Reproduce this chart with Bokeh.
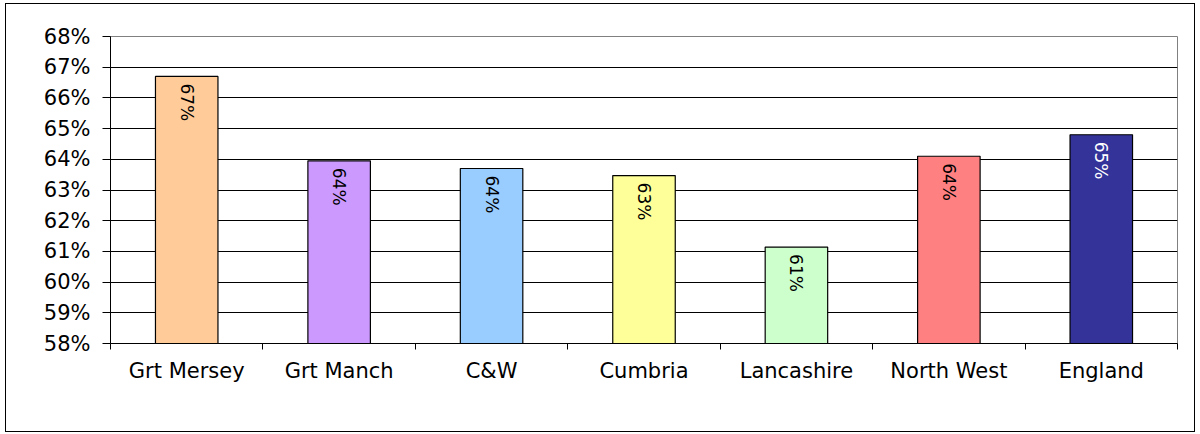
import math
from bokeh.plotting import figure
from bokeh.models import ColumnDataSource, FixedTicker, PrintfTickFormatter
from bokeh.core.properties import value
from bokeh.embed import file_html
from bokeh.resources import INLINE

categories = ["Grt Mersey", "Grt Manch", "C&W", "Cumbria", "Lancashire", "North West", "England"]
rates = [66.7, 63.95, 63.7, 63.47, 61.14, 64.1, 64.8]
bar_colors = ["#FFCC99", "#CC99FF", "#99CCFF", "#FFFF99", "#CCFFCC", "#FF8080", "#333399"]
label_colors = ["#000000", "#000000", "#000000", "#000000", "#000000", "#000000", "#FFFFFF"]
y_ticks = list(range(58, 69))

xs = [i + 0.5 for i in range(len(categories))]
labels = [f"{round(v)}%" for v in rates]

src = ColumnDataSource(dict(x=xs, top=rates, color=bar_colors, label=labels, lcolor=label_colors))

p = figure(width=1190, height=429, x_range=(0, len(categories)), y_range=(58, 68),
           output_backend="svg", toolbar_location=None,
           min_border_left=104, min_border_right=19, min_border_top=32, min_border_bottom=90)
p.styles = {"border": "1px solid #000000", "box-sizing": "border-box",
            "margin-left": "5px", "margin-top": "3px"}

p.vbar(x="x", top="top", bottom=58, width=0.41, fill_color="color",
       line_color="#000000", line_width=1.2, source=src)

p.text(x="x", y="top", text="label", angle=-math.pi / 2, text_align="left",
       text_baseline="middle", y_offset=7, text_color="lcolor",
       text_font=value("DejaVu Sans"), text_font_size="17px", source=src)

p.outline_line_color = "#808080"
p.outline_line_width = 1
p.background_fill_color = "#FFFFFF"

# grid
p.xgrid.visible = False
p.ygrid.ticker = FixedTicker(ticks=y_ticks[1:-1])
p.ygrid.grid_line_color = "#000000"
p.ygrid.grid_line_width = 1

# y axis
p.yaxis.ticker = FixedTicker(ticks=y_ticks)
p.yaxis.formatter = PrintfTickFormatter(format="%d%%")
p.yaxis.axis_line_color = "#000000"
p.yaxis.major_tick_line_color = "#000000"
p.yaxis.major_tick_out = 8
p.yaxis.major_tick_in = 0
p.yaxis.minor_tick_line_color = None
p.yaxis.major_label_standoff = 12
p.yaxis.major_label_text_font = "DejaVu Sans"
p.yaxis.major_label_text_font_size = "21px"
p.yaxis.major_label_text_color = "#000000"

# x axis
p.xaxis.ticker = FixedTicker(ticks=xs, minor_ticks=list(range(len(categories) + 1)))
p.xaxis.major_label_overrides = {x: c for x, c in zip(xs, categories)}
p.xaxis.axis_line_color = "#000000"
p.xaxis.major_tick_line_color = None
p.xaxis.major_tick_out = 0
p.xaxis.major_tick_in = 0
p.xaxis.minor_tick_line_color = "#000000"
p.xaxis.minor_tick_out = 6
p.xaxis.minor_tick_in = 0
p.xaxis.major_label_standoff = 9
p.xaxis.major_label_text_font = "DejaVu Sans"
p.xaxis.major_label_text_font_size = "21px"
p.xaxis.major_label_text_color = "#000000"

open("out.html", "w").write(file_html(p, INLINE))
